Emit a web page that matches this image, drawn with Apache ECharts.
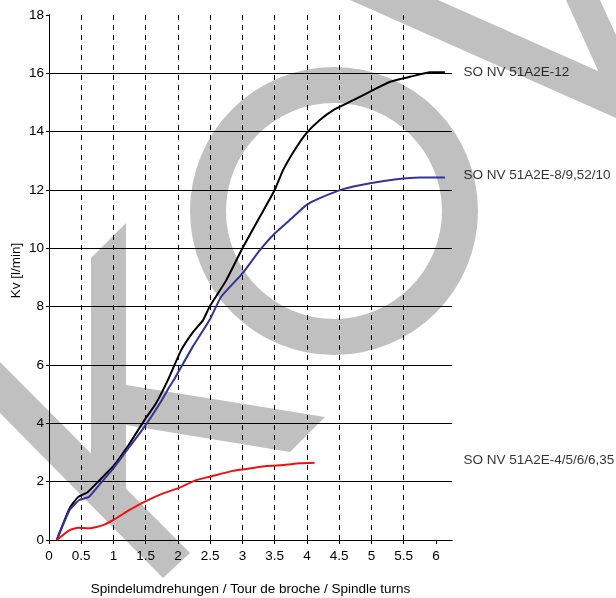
<!DOCTYPE html>
<html>
<head>
<meta charset="utf-8">
<script src="https://cdn.jsdelivr.net/npm/echarts@6/dist/echarts.min.js"></script>
<style>
html,body{margin:0;padding:0;background:#fff;}
#chart{width:616px;height:598px;}
</style>
</head>
<body>
<div id="chart"></div>
<script>
// ---- data ----
const seriesNames = ['SO NV 51A2E-12', 'SO NV 51A2E-8/9,52/10', 'SO NV 51A2E-4/5/6/6,35'];
const seriesColors = ['#000000', '#333399', '#ee1111'];

const kv12 = [
  [0.12,0],[0.32,1.09],[0.45,1.47],[0.60,1.64],[0.78,2.04],[1.0,2.54],[1.25,3.31],
  [1.48,4.11],[1.66,4.69],[1.845,5.49],[2.05,6.51],[2.23,7.12],[2.39,7.54],[2.49,8.0],
  [2.75,8.91],[3.0,10.0],[3.27,11.08],[3.5,12.0],[3.63,12.68],
  [3.81,13.37],[3.99,13.94],[4.2,14.4],[4.41,14.74],[4.72,15.08],[5.03,15.43],
  [5.29,15.71],[5.6,15.88],[5.91,16.04],[6.14,16.04]
];
const kv8 = [
  [0.12,0],[0.32,1.03],[0.47,1.37],[0.62,1.48],[0.78,1.89],[1.0,2.46],[1.25,3.2],
  [1.48,3.88],[1.72,4.69],[1.87,5.26],[1.95,5.54],[2.23,6.63],[2.49,7.54],[2.67,8.34],
  [3.0,9.14],[3.27,9.94],[3.5,10.51],[3.79,11.08],[3.99,11.48],[4.2,11.72],
  [4.56,12.03],[4.98,12.23],[5.39,12.37],[5.75,12.43],[6.14,12.43]
];
const kv4 = [
  [0.12,0],[0.32,0.34],[0.45,0.42],[0.63,0.4],[0.84,0.51],[1.0,0.69],[1.25,1.03],
  [1.48,1.31],[1.77,1.6],[2.0,1.77],[2.29,2.06],[2.49,2.17],[2.85,2.37],[3.11,2.45],
  [3.37,2.54],[3.63,2.57],[3.89,2.63],[4.12,2.65]
];
const labelX = 6.35;
const labelY = [16.05, 12.5, 2.75];
const xTicks = [0,0.5,1,1.5,2,2.5,3,3.5,4,4.5,5,5.5,6];
const xName = 'Spindelumdrehungen / Tour de broche / Spindle turns';
const yName = 'Kv [l/min]';

const chart = echarts.init(document.getElementById('chart'), null, {renderer:'canvas'});
const FONT = 'Liberation Sans, Arial, sans-serif';
const FS = 13.5;
const GRAY = '#c0c0c0';

const lineSeries = [kv12, kv8, kv4].map((d, i) => ({
  type: 'line', name: seriesNames[i], data: d, showSymbol: false, smooth: 0.15,
  lineStyle: {color: seriesColors[i], width: 2}, itemStyle: {color: seriesColors[i]},
  z: 3, animation: false
}));

const labelSeries = {
  type: 'scatter', clip: false, symbolSize: 0, animation: false, silent: true,
  data: seriesNames.map((n, i) => ({name: n, value: [labelX, labelY[i]]})),
  label: {show: true, position: 'right', distance: 5, formatter: p => p.name,
          color: '#000', fontSize: FS, fontFamily: FONT}
};

const wm = (pts) => ({type: 'polygon', silent: true, z: -5, shape: {points: pts}, style: {fill: GRAY}});

chart.setOption({
  animation: false,
  backgroundColor: '#fff',
  textStyle: {fontFamily: FONT},
  graphic: [
    {type: 'ring', silent: true, z: -5, shape: {cx: 334, cy: 211, r: 144, r0: 108}, style: {fill: GRAY}},
    wm([[91,258],[126,223],[126,500],[91,470]]),
    wm([[126,385],[325,417],[290,452],[126,425]]),
    wm([[0,362],[190,553],[163,578],[0,413]]),
    wm([[350,0],[438,0],[616,79],[616,118]]),
    wm([[566,0],[600,0],[616,35],[616,110]])
  ],
  grid: {left: 49, right: 164, top: 15, bottom: 58, containLabel: false, outerBoundsMode: 'none'},
  xAxis: [{
    type: 'value', min: 0, max: 6.25, interval: 0.5,
    name: xName, nameLocation: 'middle', nameGap: 42, nameMoveOverlap: false,
    nameTextStyle: {color: '#000', fontSize: FS, fontFamily: FONT},
    axisLine: {show: true, onZero: false, lineStyle: {color: '#000', width: 1}},
    axisTick: {show: true, length: 4, inside: false, customValues: xTicks, lineStyle: {color: '#000'}},
    axisLabel: {color: '#000', fontSize: FS, fontFamily: FONT, margin: 9, customValues: xTicks},
    splitLine: {show: true, showMinLine: false, showMaxLine: false, lineStyle: {color: '#000', width: 1, type: [5, 5]}}
  }, {
    type: 'value', min: 0, max: 6.25, position: 'top',
    axisLine: {show: true, lineStyle: {color: '#000', width: 1, type: [5, 5]}},
    axisTick: {show: false}, axisLabel: {show: false}, splitLine: {show: false}
  }],
  yAxis: [{
    type: 'value', min: 0, max: 18, interval: 2,
    name: yName, nameLocation: 'middle', nameGap: 26, nameRotate: 90, nameMoveOverlap: false,
    nameTextStyle: {color: '#000', fontSize: FS, fontFamily: FONT, padding: [0, 0, 0, 14]},
    axisLine: {show: true, onZero: false, lineStyle: {color: '#000', width: 1}},
    axisTick: {show: true, length: 3, lineStyle: {color: '#000'}},
    axisLabel: {color: '#000', fontSize: FS, fontFamily: FONT, margin: 5},
    splitLine: {show: true, showMinLine: false, showMaxLine: false, lineStyle: {color: '#000', width: 1}}
  }, {
    type: 'value', min: 0, max: 18, position: 'right',
    axisLine: {show: true, lineStyle: {color: '#000', width: 1}},
    axisTick: {show: false}, axisLabel: {show: false}, splitLine: {show: false}
  }],
  series: [...lineSeries, labelSeries]
});
</script>
</body>
</html>
